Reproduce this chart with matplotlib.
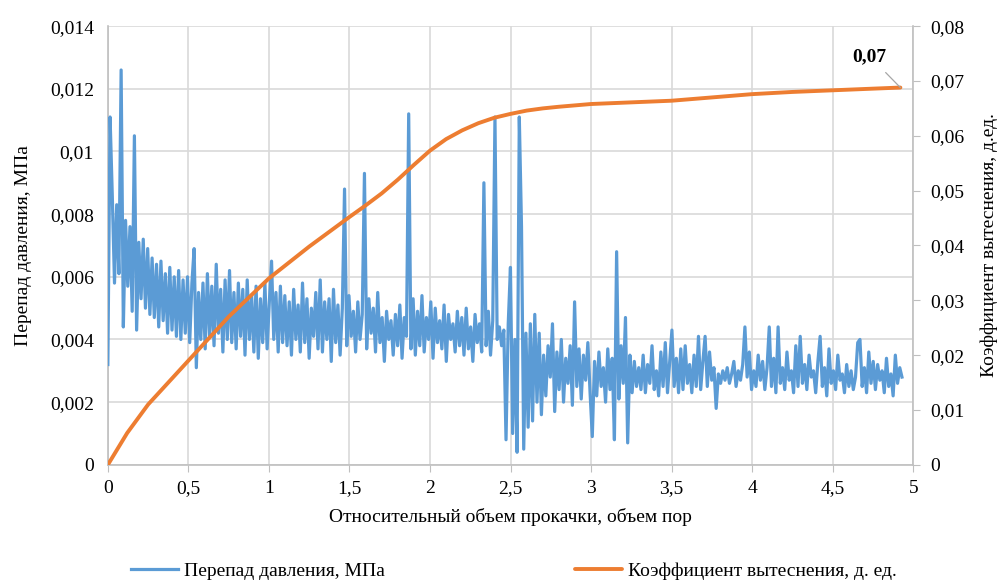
import numpy as np
import matplotlib
matplotlib.use('Agg')
import matplotlib.pyplot as plt
from matplotlib.ticker import FuncFormatter, MultipleLocator

plt.rcParams['font.family'] = ['Liberation Serif', 'DejaVu Serif']

# orange curve: displacement coefficient, fraction
vol_k = [0, 0.12, 0.25, 0.5, 0.75, 1.0, 1.25, 1.5, 1.6, 1.7, 1.8, 1.9, 2.0,
         2.1, 2.2, 2.3, 2.4, 2.5, 2.6, 2.7, 2.8, 3.0, 3.25, 3.5, 3.75, 4.0,
         4.25, 4.5, 4.75, 4.92]
k_disp = [0, 0.0058, 0.0110, 0.0190, 0.0270, 0.0340, 0.0398, 0.0452, 0.0473,
          0.0495, 0.0520, 0.0547, 0.0573, 0.0594, 0.0610, 0.0623, 0.0633,
          0.0640, 0.0646, 0.0650, 0.0653, 0.0658, 0.0661, 0.0664, 0.0670,
          0.0676, 0.0680, 0.0683, 0.0686, 0.0688]

dp = [
    0.0032, 0.0111, 0.0086, 0.0058, 0.0083, 0.0061, 0.0126, 0.0044, 0.0078, 0.0057,
    0.0076, 0.0049, 0.0105, 0.0043, 0.0071, 0.0053, 0.0072, 0.0050, 0.0069, 0.0048,
    0.0066, 0.0047, 0.0064, 0.0044, 0.0065, 0.0046, 0.0061, 0.0042, 0.0063, 0.0043,
    0.0060, 0.0041, 0.0062, 0.0040, 0.0059, 0.0042, 0.0060, 0.0039, 0.0058, 0.0069,
    0.0031, 0.0055, 0.0040, 0.0058, 0.0037, 0.0061, 0.0041, 0.0057, 0.0038, 0.0064,
    0.0042, 0.0056, 0.0036, 0.0059, 0.0040, 0.0062, 0.0039, 0.0055, 0.0037, 0.0058,
    0.0041, 0.0056, 0.0035, 0.0059, 0.0040, 0.0054, 0.0036, 0.0057, 0.0034, 0.0053,
    0.0039, 0.0058, 0.0037, 0.0052, 0.0065, 0.0040, 0.0055, 0.0036, 0.0057, 0.0039,
    0.0054, 0.0038, 0.0052, 0.0035, 0.0056, 0.0040, 0.0051, 0.0036, 0.0058, 0.0039,
    0.0053, 0.0034, 0.0050, 0.0041, 0.0055, 0.0037, 0.0059, 0.0036, 0.0052, 0.0040,
    0.0053, 0.0033, 0.0056, 0.0039, 0.0051, 0.0035, 0.0050, 0.0088, 0.0038, 0.0054,
    0.0041, 0.0049, 0.0036, 0.0052, 0.0040, 0.0048, 0.0093, 0.0037, 0.0053, 0.0042,
    0.0050, 0.0036, 0.0055, 0.0039, 0.0047, 0.0033, 0.0049, 0.0040, 0.0046, 0.0035,
    0.0048, 0.0038, 0.0051, 0.0034, 0.0047, 0.0041, 0.0112, 0.0037, 0.0053, 0.0035,
    0.0049, 0.0038, 0.0054, 0.0036, 0.0047, 0.0040, 0.0052, 0.0034, 0.0050, 0.0039,
    0.0046, 0.0037, 0.0051, 0.0033, 0.0048, 0.0040, 0.0045, 0.0036, 0.0049, 0.0038,
    0.0047, 0.0035, 0.0050, 0.0037, 0.0044, 0.0033, 0.0048, 0.0039, 0.0045, 0.0036,
    0.0090, 0.0038, 0.0049, 0.0035, 0.0046, 0.0111, 0.0040, 0.0044, 0.0038, 0.0043,
    0.0008, 0.0045, 0.0063, 0.0010, 0.0040, 0.0004, 0.0111, 0.0076, 0.0005, 0.0042,
    0.0012, 0.0045, 0.0014, 0.0048, 0.0020, 0.0042, 0.0016, 0.0035, 0.0022, 0.0038,
    0.0028, 0.0045, 0.0017, 0.0036, 0.0024, 0.0040, 0.0020, 0.0034, 0.0026, 0.0038,
    0.0019, 0.0052, 0.0025, 0.0037, 0.0021, 0.0035, 0.0027, 0.0039, 0.0023, 0.0009,
    0.0033, 0.0022, 0.0036, 0.0025, 0.0031, 0.0020, 0.0037, 0.0024, 0.0034, 0.0008,
    0.0068, 0.0021, 0.0038, 0.0026, 0.0047, 0.0007, 0.0035, 0.0023, 0.0033, 0.0025,
    0.0031, 0.0024, 0.0035, 0.0023, 0.0032, 0.0026, 0.0038, 0.0024, 0.0030, 0.0022,
    0.0036, 0.0025, 0.0039, 0.0023, 0.0033, 0.0043, 0.0025, 0.0034, 0.0023, 0.0037,
    0.0024, 0.0038, 0.0026, 0.0032, 0.0023, 0.0035, 0.0025, 0.0041, 0.0024, 0.0033,
    0.0041, 0.0025, 0.0036, 0.0027, 0.0031, 0.0018, 0.0029, 0.0026, 0.0030, 0.0027,
    0.0031, 0.0026, 0.0029, 0.0033, 0.0025, 0.0030, 0.0027, 0.0032, 0.0044, 0.0028,
    0.0036, 0.0024, 0.0030, 0.0025, 0.0035, 0.0027, 0.0033, 0.0024, 0.0031, 0.0044,
    0.0025, 0.0034, 0.0023, 0.0044, 0.0026, 0.0031, 0.0024, 0.0036, 0.0027, 0.0030,
    0.0023, 0.0038, 0.0025, 0.0041, 0.0026, 0.0032, 0.0024, 0.0035, 0.0028, 0.0030,
    0.0023, 0.0033, 0.0041, 0.0025, 0.0031, 0.0022, 0.0037, 0.0026, 0.0030, 0.0024,
    0.0035, 0.0027, 0.0029, 0.0023, 0.0032, 0.0025, 0.0030, 0.0024, 0.0028, 0.0039,
    0.0040, 0.0025, 0.0031, 0.0023, 0.0036, 0.0026, 0.0033, 0.0024, 0.0032, 0.0027,
    0.0030, 0.0023, 0.0034, 0.0025, 0.0029, 0.0022, 0.0035, 0.0026, 0.0031, 0.0028,
]
vol_dp = np.linspace(0, 4.93, len(dp))  # sample positions along x


def comma(v, pos):
    s = '{:g}'.format(round(v, 6))
    return s.replace('.', ',')


fs = 14

fig = plt.figure(figsize=(10.08, 5.81), dpi=100)
ax1 = fig.add_axes([0.107, 0.200, 0.799, 0.755])
ax2 = ax1.twinx()

ax1.plot(vol_dp, dp, '-', color='#5B9BD5', linewidth=2.3, label='Перепад давления, МПа', zorder=3)
ax2.plot(vol_k, k_disp, '-', color='#ED7D31', linewidth=2.8, label='Коэффициент вытеснения, д. ед.',
         solid_capstyle='round', solid_joinstyle='round')

ax1.set_xlim(0, 5)
ax1.set_ylim(0, 0.014)
ax2.set_ylim(0, 0.08)
ax1.xaxis.set_major_locator(MultipleLocator(0.5))
ax1.yaxis.set_major_locator(MultipleLocator(0.002))
ax2.yaxis.set_major_locator(MultipleLocator(0.01))
for a in [ax1.xaxis, ax1.yaxis, ax2.yaxis]:
    a.set_major_formatter(FuncFormatter(comma))

ax1.grid(True, color='#d9d9d9', linewidth=1.2)
ax1.set_axisbelow(True)

for ax in [ax1, ax2]:
    ax.spines['top'].set_visible(False)
    for side in ['left', 'bottom', 'right']:
        ax.spines[side].set_color('#bfbfbf')
        ax.spines[side].set_linewidth(1.2)
ax1.spines['right'].set_visible(False)
ax2.spines['left'].set_visible(False)
ax2.spines['bottom'].set_visible(False)

ax1.tick_params(axis='y', length=0, labelsize=fs, pad=10)
ax1.tick_params(axis='x', length=5, color='#bfbfbf', labelsize=fs, pad=6)
ax2.tick_params(axis='y', length=5, color='#bfbfbf', labelsize=fs, pad=7)

ax1.set_xlabel('Относительный объем прокачки, объем пор', fontsize=fs, labelpad=8)
ax1.set_ylabel('Перепад давления, МПа', fontsize=fs, labelpad=13)
ax2.set_ylabel('Коэффициент вытеснения, д.ед.', fontsize=fs, labelpad=12)

ax2.annotate('0,07', xy=(vol_k[-1], k_disp[-1]), xytext=(4.73, 0.0745),
             fontsize=fs, fontweight='bold', ha='center', va='center',
             arrowprops=dict(arrowstyle='-', color='#a6a6a6', lw=0.9,
                             shrinkA=5, shrinkB=0))

h1, l1 = ax1.get_legend_handles_labels()
h2, l2 = ax2.get_legend_handles_labels()
fig.legend(h1 + h2, l1 + l2, loc='lower center', bbox_to_anchor=(0.51, -0.028), ncol=2,
           frameon=False, fontsize=fs, handlelength=2.4, handletextpad=0.3, columnspacing=9.8)

fig.savefig('out.png', dpi=100)
